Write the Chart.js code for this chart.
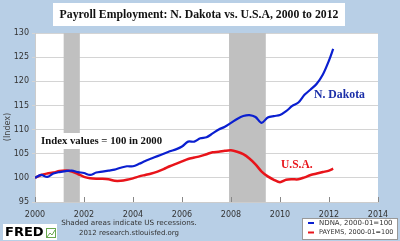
<!DOCTYPE html>
<html>
<head>
<meta charset="utf-8">
<script src="https://cdn.jsdelivr.net/npm/chart.js@4.4.0/dist/chart.umd.min.js"></script>
<style>
  html, body { margin: 0; padding: 0; background: #b8cfe6; }
  #wrap { width: 400px; height: 241px; }
</style>
</head>
<body>
<div id="wrap"><canvas id="chart" width="400" height="241"></canvas></div>
<script>
// quarterly dates (decimal years), last point is Mar 2012
const dates = [
  2000.00, 2000.25, 2000.50, 2000.75, 2001.00, 2001.25, 2001.50, 2001.75,
  2002.00, 2002.25, 2002.50, 2002.75, 2003.00, 2003.25, 2003.50, 2003.75,
  2004.00, 2004.25, 2004.50, 2004.75, 2005.00, 2005.25, 2005.50, 2005.75,
  2006.00, 2006.25, 2006.50, 2006.75, 2007.00, 2007.25, 2007.50, 2007.75,
  2008.00, 2008.25, 2008.50, 2008.75, 2009.00, 2009.25, 2009.50, 2009.75,
  2010.00, 2010.25, 2010.50, 2010.75, 2011.00, 2011.25, 2011.50, 2011.75,
  2012.00, 2012.17
];
const ndna = [
  100.0, 100.6, 100.2, 100.9, 101.2, 101.4, 101.5, 101.2,
  101.0, 100.6, 101.1, 101.3, 101.5, 101.7, 102.1, 102.4,
  102.4, 102.9, 103.5, 104.0, 104.5, 105.0, 105.5, 105.9,
  106.5, 107.5, 107.5, 108.2, 108.4, 109.2, 110.0, 110.6,
  111.4, 112.2, 112.8, 113.0, 112.6, 111.4, 112.5, 112.8,
  113.0, 113.8, 114.9, 115.6, 117.2, 118.3, 119.5, 121.4,
  124.3, 126.7
];
const payems = [
  100.0, 100.6, 100.9, 101.1, 101.4, 101.5, 101.3, 100.8,
  100.2, 99.9, 99.8, 99.8, 99.7, 99.4, 99.4, 99.6,
  99.9, 100.3, 100.6, 100.9, 101.3, 101.8, 102.4, 102.9,
  103.4, 103.9, 104.2, 104.5, 104.9, 105.3, 105.4, 105.6,
  105.7, 105.4, 104.9, 104.0, 102.8, 101.3, 100.3, 99.6,
  99.1, 99.6, 99.7, 99.7, 100.1, 100.6, 100.9, 101.2,
  101.5, 101.9
];
const recessions = [[2001.17, 2001.83], [2007.92, 2009.42]];
const seriesNames = ["NDNA, 2000-01=100", "PAYEMS, 2000-01=100"];
const seriesColors = ["#0a1fd0", "#e8141a"];

function pts(vals) {
  return vals.map((v, i) => ({ x: dates[i], y: v }));
}

// pick the biggest font size that keeps the text inside the given width
function fitText(ctx, text, x, y, weight, family, size, width) {
  let s = size;
  ctx.font = weight + " " + s + "px " + family;
  while (s > 6 && ctx.measureText(text).width > width) {
    s -= 0.25;
    ctx.font = weight + " " + s + "px " + family;
  }
  ctx.fillText(text, x, y);
}

const serif = "'Liberation Serif'";

const backdrop = {
  id: "backdrop",
  beforeDraw(chart) {
    const ctx = chart.ctx, a = chart.chartArea;
    ctx.save();
    ctx.fillStyle = "#b8cfe6";
    ctx.fillRect(0, 0, chart.width, chart.height);
    ctx.fillStyle = "#ffffff";
    ctx.fillRect(a.left, a.top, a.right - a.left, a.bottom - a.top);
    ctx.restore();
  },
  beforeDatasetsDraw(chart) {
    const ctx = chart.ctx, a = chart.chartArea, xs = chart.scales.x;
    ctx.save();
    ctx.fillStyle = "#c0c0c0";
    recessions.forEach(r => {
      const x0 = xs.getPixelForValue(r[0]), x1 = xs.getPixelForValue(r[1]);
      ctx.fillRect(x0, a.top, x1 - x0, a.bottom - a.top);
    });
    // small ticks inside the plot along the bottom
    ctx.strokeStyle = "#888888";
    ctx.lineWidth = 1;
    xs.ticks.forEach(t => {
      const px = Math.round(xs.getPixelForValue(t.value)) + 0.5;
      ctx.beginPath();
      ctx.moveTo(px, a.bottom);
      ctx.lineTo(px, a.bottom - 5);
      ctx.stroke();
    });
    // annotation box
    ctx.fillStyle = "#ffffff";
    ctx.fillRect(38, 133, 128, 16);
    ctx.restore();
  },
  afterDraw(chart) {
    const ctx = chart.ctx;
    ctx.save();
    // title
    ctx.fillStyle = "#ffffff";
    ctx.fillRect(53, 3, 292, 23);
    ctx.fillStyle = "#111111";
    ctx.textAlign = "center";
    ctx.textBaseline = "middle";
    fitText(ctx, "Payroll Employment: N. Dakota vs. U.S.A, 2000 to 2012", 199, 14.5, "bold", serif, 15, 284);

    ctx.textAlign = "left";
    fitText(ctx, "Index values = 100 in 2000", 41, 141.5, "bold", serif, 13, 123);

    ctx.fillStyle = "#1a2ea8";
    fitText(ctx, "N. Dakota", 314, 94.5, "bold", serif, 14, 52);
    ctx.fillStyle = "#e8141a";
    fitText(ctx, "U.S.A.", 281, 165.5, "bold", serif, 14, 32);

    // y title
    ctx.fillStyle = "#444444";
    ctx.font = "8px 'DejaVu Sans'";
    ctx.translate(8, 127);
    ctx.rotate(-Math.PI / 2);
    ctx.textAlign = "center";
    ctx.fillText("(Index)", 0, 0);
    ctx.setTransform(1, 0, 0, 1, 0, 0);

    // footer notes
    ctx.fillStyle = "#333333";
    ctx.textAlign = "center";
    fitText(ctx, "Shaded areas indicate US recessions.", 129, 223, "", "'DejaVu Sans'", 8, 136);
    fitText(ctx, "2012 research.stlouisfed.org", 129, 233, "", "'DejaVu Sans'", 8, 102);

    // FRED logo
    ctx.fillStyle = "#ffffff";
    ctx.fillRect(3, 224, 54, 16);
    ctx.fillStyle = "#000000";
    ctx.textAlign = "left";
    fitText(ctx, "FRED", 5, 233, "bold", "'DejaVu Sans'", 16, 39);
    ctx.strokeStyle = "#6aa84f";
    ctx.lineWidth = 1;
    ctx.strokeRect(46.5, 228.5, 9, 9);
    ctx.beginPath();
    ctx.moveTo(47, 237); ctx.lineTo(50, 233); ctx.lineTo(52, 235); ctx.lineTo(55, 230);
    ctx.stroke();

    // legend
    ctx.fillStyle = "#ffffff";
    ctx.fillRect(302, 218, 96, 22);
    ctx.strokeStyle = "#999999";
    ctx.strokeRect(302.5, 218.5, 95, 21);
    ctx.fillStyle = "#333333";
    seriesNames.forEach((n, i) => {
      const y = 223 + i * 9.5;
      ctx.strokeStyle = seriesColors[i];
      ctx.lineWidth = 2;
      ctx.beginPath();
      ctx.moveTo(308, y); ctx.lineTo(314, y);
      ctx.stroke();
      fitText(ctx, n, 319, y, "", "'DejaVu Sans'", 7, 76);
    });
    ctx.restore();
  }
};

new Chart(document.getElementById("chart"), {
  type: "line",
  data: {
    datasets: [
      { label: seriesNames[0], data: pts(ndna), borderColor: seriesColors[0], borderWidth: 2.2, pointRadius: 0, tension: 0.3 },
      { label: seriesNames[1], data: pts(payems), borderColor: seriesColors[1], borderWidth: 2.5, pointRadius: 0, tension: 0.3 }
    ]
  },
  options: {
    responsive: false,
    animation: false,
    devicePixelRatio: 1,
    layout: { padding: { top: 33, right: 22, left: 0, bottom: 0 } },
    plugins: { legend: { display: false }, tooltip: { enabled: false } },
    scales: {
      x: {
        type: "linear", min: 2000, max: 2014,
        afterFit(s) { s.height = 39; },
        ticks: { stepSize: 2, color: "#333", font: { family: "DejaVu Sans", size: 8 }, padding: 0, maxRotation: 0,
          callback: v => String(v) },
        grid: { display: false },
        border: { color: "#cccccc" }
      },
      y: {
        min: 95, max: 130,
        afterFit(s) { s.width = 35; },
        ticks: { stepSize: 5, color: "#333", font: { family: "DejaVu Sans", size: 8 }, padding: 3 },
        grid: { color: "#d4d4d4", tickLength: 3 },
        border: { color: "#cccccc" }
      }
    }
  },
  plugins: [backdrop]
});
</script>
</body>
</html>
